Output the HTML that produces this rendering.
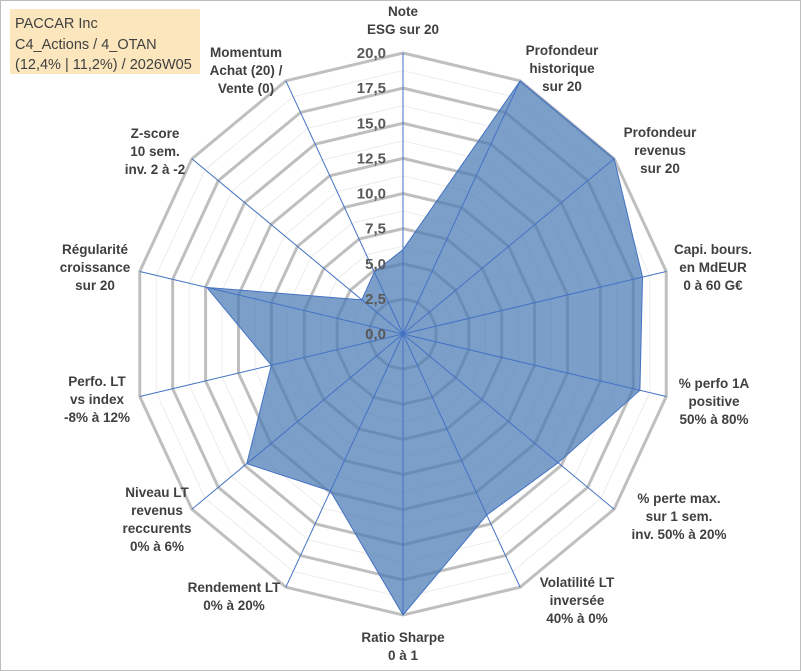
<!DOCTYPE html>
<html><head><meta charset="utf-8"><style>
html,body{margin:0;padding:0;background:#fff}
#wrap{position:relative;width:801px;height:671px;overflow:hidden}
svg text{font-family:"Liberation Sans",Arial,sans-serif}
</style></head><body>
<div id="wrap">
<svg id="chart" width="801" height="671" viewBox="0 0 801 671">
<rect x="0.5" y="0.5" width="800" height="670" fill="#fff" stroke="#bdbdbd"/>
<rect x="10" y="9" width="190" height="65" fill="#fbe6bd"/>
<text x="15" y="28" font-size="14.5" fill="#404040">PACCAR Inc</text>
<text x="15" y="49" font-size="14.5" fill="#404040">C4_Actions / 4_OTAN</text>
<text x="15" y="69" font-size="14.5" fill="#404040">(12,4% | 11,2%) / 2026W05</text>
<g id="grid"></g><g id="series"></g><g id="axes"></g><g id="ticks"></g><g id="labels"></g>
</svg></div>
<script>
const categories=[["Note","ESG sur 20"],["Profondeur","historique","sur 20"],["Profondeur","revenus","sur 20"],["Capi. bours.","en MdEUR","0 à 60 G€"],["% perfo 1A","positive","50% à 80%"],["% perte max.","sur 1 sem.","inv. 50% à 20%"],["Volatilité LT","inversée","40% à 0%"],["Ratio Sharpe","0 à 1"],["Rendement LT","0% à 20%"],["Niveau LT","revenus","reccurents","0% à 6%"],["Perfo. LT","vs index","-8% à 12%"],["Régularité","croissance","sur 20"],["Z-score","10 sem.","inv. 2 à -2"],["Momentum","Achat (20) /","Vente (0)"]];
const values=[6.0,20,20,18.2,18.0,14.7,14.3,20,12.4,14.8,10.0,14.9,3.9,4.9];
const tickLabels=["0,0","2,5","5,0","7,5","10,0","12,5","15,0","17,5","20,0"];
const tickValues=[0,2.5,5,7.5,10,12.5,15,17.5,20];
const maxV=20;
const cx=403,cy=334,rx=270,ry=281;
const NS="http://www.w3.org/2000/svg";
const n=categories.length;
function pt(i,v){const a=2*Math.PI*i/n;return [cx+Math.sin(a)*rx*v/maxV, cy-Math.cos(a)*ry*v/maxV];}
function mk(tag,attrs,parent){const e=document.createElementNS(NS,tag);for(const k in attrs)e.setAttribute(k,attrs[k]);parent.appendChild(e);return e;}
const grid=document.getElementById('grid');
for(let s=1;s<=16;s++){
  const v=s*1.25;const pts=[];for(let i=0;i<n;i++)pts.push(pt(i,v).join(','));
  const major=s%2===0;
  const p=mk('polygon',{points:pts.join(' '),fill:'none',stroke:major?'#bfbfbf':'#ececec','stroke-width':major?3:1},grid);
  
  
}
const series=document.getElementById('series');
const sp=values.map((v,i)=>pt(i,v).join(',')).join(' ');
const poly=mk('polygon',{points:sp,fill:'#4a7ab4','fill-opacity':'0.72',stroke:'#4472c4','stroke-width':1},series);


const axes=document.getElementById('axes');
for(let i=0;i<n;i++){const [x,y]=pt(i,maxV);
  const l=mk('line',{x1:cx,y1:cy,x2:x,y2:y,stroke:'#4472c4','stroke-width':1},axes);
  
  
}
const ticks=document.getElementById('ticks');
tickValues.forEach((v,k)=>{const y=cy-ry*v/maxV;
  const t=mk('text',{x:386,y:y+5,'text-anchor':'end','font-size':15,'font-weight':'bold',fill:'#595959'},ticks);
  t.textContent=tickLabels[k];
  
  
});
const labels=document.getElementById('labels');
const lpos=[[403,16],[562,55],[660,137],[713,254],[714,388],[679,503],[577,587],[403,642],[234,592],[157,497],[97,386],[95,254],[155,138],[246,57]];
categories.forEach((c,i)=>{const [x,y]=lpos[i];
  const t=mk('text',{x:x,y:y,'text-anchor':'middle','font-size':13.5,'font-weight':'bold',fill:'#404040'},labels);
  
  
  c.forEach((line,j)=>{const ts=mk('tspan',{x:x,dy:j===0?0:18},t);ts.textContent=line;});
});
</script>
</body></html>
